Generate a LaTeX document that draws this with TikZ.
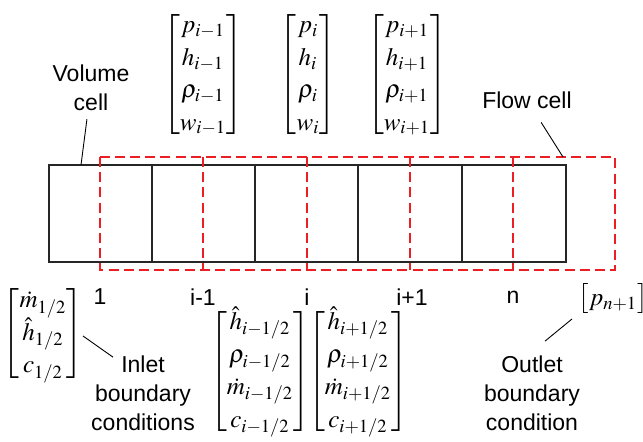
\documentclass[tikz,border=0pt]{standalone}
\usepackage{amsmath}
\usepackage{mathptmx}
\usepackage{fontspec}
\setmainfont{Liberation Sans}
\definecolor{flowred}{RGB}{235,30,35}
\renewcommand{\arraystretch}{1.08}

\begin{document}
\begin{tikzpicture}[x=0.5pt, y=-0.5pt,
    cellline/.style={line width=1.1pt, black!85},
    flowline/.style={line width=1.4pt, flowred, dash pattern=on 5pt off 2.6pt},
    leader/.style={line width=0.45pt},
    lbl/.style={font=\fontsize{11.5}{14.5}\selectfont, align=center, inner sep=0pt},
    vec/.style={font=\fontsize{12.5}{15}\selectfont, inner sep=0pt}]
    \useasboundingbox (0,0) rectangle (643,442);

    % Volume cells
    \draw[cellline] (49,165) rectangle (566,262);
    \foreach \x in {152,255,358,462}
        \draw[cellline] (\x,165) -- (\x,262);

    % Flow cells (staggered, dashed)
    \draw[flowline] (100,157) rectangle (615,270);
    \foreach \x in {203,307,410,513}
        \draw[flowline] (\x,157) -- (\x,270);

    % Cell numbers
    \foreach \x/\t in {100/1, 203/i-1, 307/i, 412/i+1, 513/n}
        \node[lbl] (num-\x) at (\x,297) {\t};

    % State vectors of the volume cells
    \node[vec] (v-im1) at (203,75) {$\begin{bmatrix} p_{i-1}\\ h_{i-1}\\ \rho_{i-1}\\ w_{i-1} \end{bmatrix}$};
    \node[vec] (v-i) at (308,75) {$\begin{bmatrix} p_{i}\\ h_{i}\\ \rho_{i}\\ w_{i} \end{bmatrix}$};
    \node[vec] (v-ip1) at (407,75) {$\begin{bmatrix} p_{i+1}\\ h_{i+1}\\ \rho_{i+1}\\ w_{i+1} \end{bmatrix}$};

    % Flow variables at the faces
    \node[vec] (v-in) at (43,334) {$\begin{bmatrix} \dot{m}_{1/2}\\ \hat{h}_{1/2}\\ c_{1/2} \end{bmatrix}$};
    \node[vec] (v-imh) at (260,372) {$\begin{bmatrix} \hat{h}_{i-1/2}\\ \rho_{i-1/2}\\ \dot{m}_{i-1/2}\\ c_{i-1/2} \end{bmatrix}$};
    \node[vec] (v-iph) at (358,372) {$\begin{bmatrix} \hat{h}_{i+1/2}\\ \rho_{i+1/2}\\ \dot{m}_{i+1/2}\\ c_{i+1/2} \end{bmatrix}$};
    \node[vec] (v-out) at (613,299) {$\begin{bmatrix} p_{n+1} \end{bmatrix}$};

    % Labels and leader lines
    \node[lbl] (volume) at (91,88) {Volume\\cell};
    \node[lbl] (flow) at (527,100) {Flow cell};
    \node[lbl] (inlet) at (143,393) {Inlet\\boundary\\conditions};
    \node[lbl] (outlet) at (532,393) {Outlet\\boundary\\condition};

    \coordinate (vol-end) at (81,165);
    \coordinate (flow-end) at (563,157);
    \coordinate (in-end) at (83,336);
    \coordinate (out-end) at (572,319);

    \draw[leader, shorten <=4pt] (volume) -- (vol-end);
    \draw[leader, shorten <=8pt] (flow) -- (flow-end);
    \draw[leader] ([xshift=-15pt, yshift=-1pt]inlet.north) -- (in-end);
    \draw[leader] ([xshift=6.5pt, yshift=7pt]outlet.north) -- (out-end);
\end{tikzpicture}
\end{document}
